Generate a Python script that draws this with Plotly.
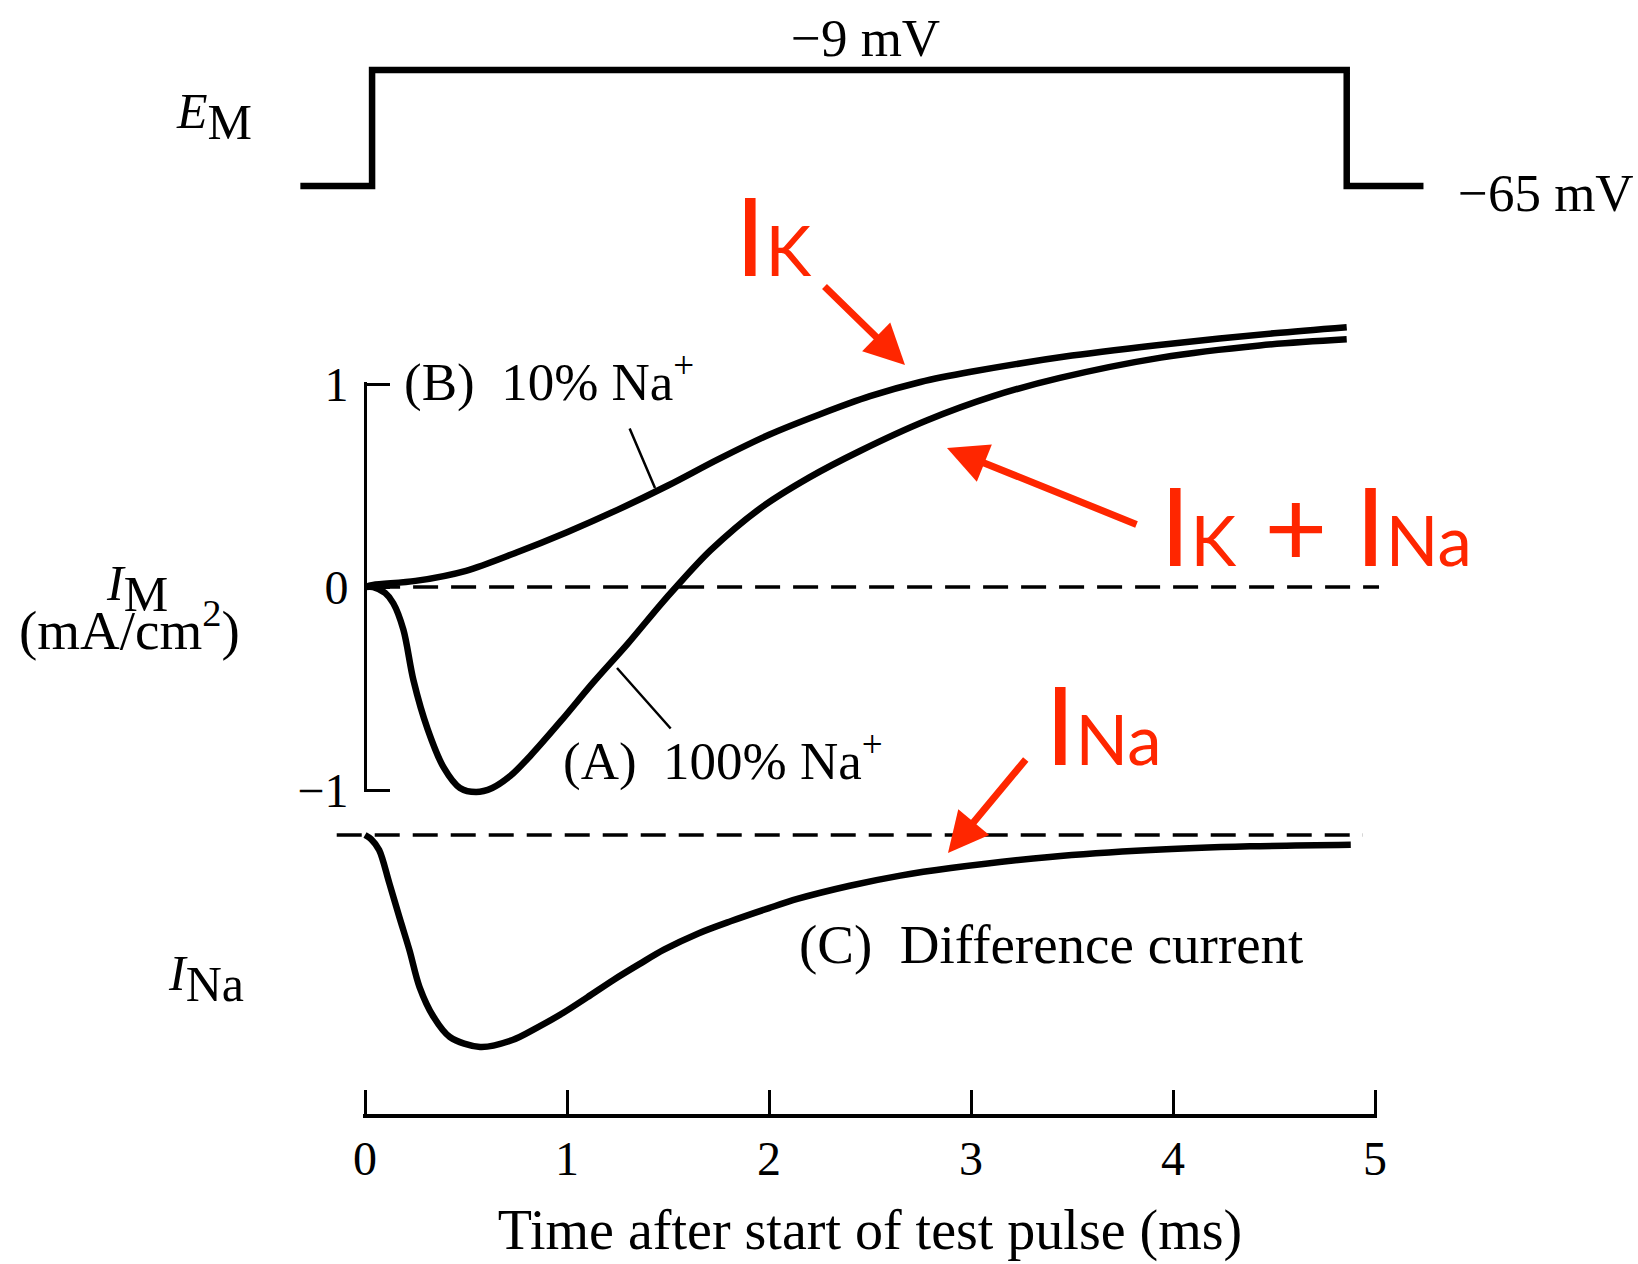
import plotly.graph_objects as go

W, H = 1638, 1264

# Membrane potential command step (mV)
em_time = [-0.32, 0.035, 4.86, 5.24]
em_mv = [-65, -9, -65, -65]

# (B) 10% Na+ : outward K+ current (mA/cm2)
ik_time = [0.0, 0.04, 0.25, 0.5, 0.75, 1.0, 1.25, 1.5, 1.75, 2.0, 2.25, 2.5,
           2.75, 3.0, 3.5, 4.0, 4.5, 4.86]
ik_curr = [0.0, 0.01, 0.03, 0.08, 0.17, 0.27, 0.38, 0.50, 0.63, 0.75, 0.85, 0.94,
           1.01, 1.06, 1.14, 1.20, 1.25, 1.28]

# (A) 100% Na+ : total membrane current (mA/cm2)
itot_time = [0.0, 0.04, 0.10, 0.14, 0.19, 0.24, 0.31, 0.39, 0.47, 0.55, 0.63,
             0.72, 0.82, 0.97, 1.13, 1.30, 1.46, 1.54, 1.71, 1.96, 2.20, 2.45,
             2.78, 3.11, 3.44, 3.94, 4.43, 4.86]
itot_curr = [0.0, 0.0, -0.03, -0.08, -0.21, -0.46, -0.70, -0.89, -0.99, -1.01, -0.99,
             -0.93, -0.83, -0.66, -0.47, -0.28, -0.09, 0.00, 0.18, 0.39, 0.54, 0.67,
             0.82, 0.94, 1.03, 1.13, 1.19, 1.22]

# (C) difference current = Na+ current (mA/cm2)
ina_time = [0.0, 0.03, 0.07, 0.12, 0.17, 0.22, 0.27, 0.34, 0.42, 0.57, 0.73,
            0.85, 0.98, 1.10, 1.23, 1.36, 1.48, 1.65, 1.81, 2.0, 2.14, 2.40,
            2.65, 2.90, 3.39, 3.89, 4.38, 4.88]
ina_curr = [0.0, -0.02, -0.074, -0.236, -0.404, -0.567, -0.749, -0.897, -0.995, -1.044, -1.010,
            -0.95, -0.877, -0.80, -0.714, -0.635, -0.565, -0.485, -0.425, -0.36, -0.315, -0.250,
            -0.20, -0.163, -0.108, -0.074, -0.056, -0.048]

# zero-current reference lines
im_zero_time = [0.05, 5.02]
im_zero_curr = [0, 0]
ina_zero_time = [-0.14, 4.94]
ina_zero_curr = [0, 0]

time_ticks = [0, 1, 2, 3, 4, 5]
im_ticks = [-1, 0, 1]

SERIF = "Liberation Serif"
SANS = "Lato"
RED = "#FF2600"

# pixel scales of the drawing
T0_PX, PX_PER_MS = 365, 202
IM0_PX, PX_PER_UNIT = 587, 203
INA0_PX = 835
END_PAD = 0.01   # keeps the end ticks of the scale bars from being clipped


def px_x(p):
    return p / W


def px_y(p):
    return 1 - p / H


def span_x(v_a, p_a, v_b, p_b):
    per = (v_b - v_a) / (p_b - p_a)
    return [v_a - p_a * per, v_a + (W - p_a) * per]


def span_y(v_a, p_a, v_b, p_b):
    per = (v_b - v_a) / (p_b - p_a)
    return [v_a + (H - p_a) * per, v_a - p_a * per]


fig = go.Figure()

fig.add_trace(go.Scatter(x=em_time, y=em_mv, mode="lines", xaxis="x", yaxis="y",
                         line=dict(color="black", width=6.5, shape="hv")))

fig.add_trace(go.Scatter(x=im_zero_time, y=im_zero_curr, mode="lines", xaxis="x", yaxis="y2",
                         line=dict(color="black", width=3.5, dash="25px,13px")))
fig.add_trace(go.Scatter(x=ik_time, y=ik_curr, mode="lines", xaxis="x", yaxis="y2",
                         line=dict(color="black", width=6.5, shape="spline", smoothing=0.9)))
fig.add_trace(go.Scatter(x=itot_time, y=itot_curr, mode="lines", xaxis="x", yaxis="y2",
                         line=dict(color="black", width=6.5, shape="spline", smoothing=0.9)))

fig.add_trace(go.Scatter(x=ina_zero_time, y=ina_zero_curr, mode="lines", xaxis="x", yaxis="y3",
                         line=dict(color="black", width=3.5, dash="25px,13px")))
fig.add_trace(go.Scatter(x=ina_time, y=ina_curr, mode="lines", xaxis="x", yaxis="y3",
                         line=dict(color="black", width=6.5, shape="spline", smoothing=0.9)))

# empty traces that bring the scale-bar axes into existence
fig.add_trace(go.Scatter(x=[None], y=[None], xaxis="x3", yaxis="y4", hoverinfo="skip"))
fig.add_trace(go.Scatter(x=[None], y=[None], xaxis="x2", yaxis="y5", hoverinfo="skip"))

tick_font = dict(family=SERIF, size=48, color="black")

t_end = time_ticks[-1]
im_top, im_bot = im_ticks[-1], im_ticks[0]
x_pad_px = END_PAD * PX_PER_MS
y_pad_px = END_PAD * PX_PER_UNIT

fig.update_layout(
    width=W, height=H,
    margin=dict(l=0, r=0, t=0, b=0, autoexpand=False),
    paper_bgcolor="white", plot_bgcolor="rgba(0,0,0,0)",
    showlegend=False,
    xaxis=dict(domain=[0, 1], range=span_x(0, T0_PX, 1, T0_PX + PX_PER_MS), visible=False),
    yaxis=dict(domain=[0, 1], range=span_y(-65, 186, -9, 70), visible=False),
    yaxis2=dict(domain=[0, 1], range=span_y(0, IM0_PX, 1, IM0_PX - PX_PER_UNIT),
                visible=False, overlaying="y"),
    yaxis3=dict(domain=[0, 1], range=span_y(0, INA0_PX, -1, INA0_PX + PX_PER_UNIT),
                visible=False, overlaying="y"),
    # current scale bar (bracket) of the I_M panel
    xaxis3=dict(domain=[px_x(367), 1], range=[0, 1], anchor="y4", visible=False),
    yaxis4=dict(domain=[px_y(IM0_PX - im_bot * PX_PER_UNIT + y_pad_px),
                        px_y(IM0_PX - im_top * PX_PER_UNIT - y_pad_px)],
                range=[im_bot - END_PAD, im_top + END_PAD], anchor="x3",
                showline=True, linecolor="black", linewidth=3,
                ticks="inside", ticklen=23, tickwidth=3, tickcolor="black",
                tickvals=im_ticks, tickfont=tick_font, showgrid=False, zeroline=False,
                ticklabelstandoff=6),
    # time axis
    xaxis2=dict(domain=[px_x(T0_PX - x_pad_px), px_x(T0_PX + t_end * PX_PER_MS + x_pad_px)],
                range=[-END_PAD, t_end + END_PAD], anchor="y5",
                showline=True, linecolor="black", linewidth=3.5,
                ticks="inside", ticklen=24, tickwidth=3, tickcolor="black",
                tickvals=time_ticks, tickfont=tick_font, showgrid=False, zeroline=False,
                title=dict(text="Time after start of test pulse (ms)",
                           font=dict(family=SERIF, size=56, color="black"), standoff=26)),
    yaxis5=dict(domain=[px_y(1114), px_y(1100)], range=[0, 1], anchor="x2", visible=False),
)


def label(text, px, py, size, xanchor="center", color="black", family=SERIF):
    return dict(text=text, x=px_x(px), y=px_y(py), xref="paper", yref="paper",
                xanchor=xanchor, yanchor="middle", showarrow=False,
                font=dict(family=family, size=size, color=color))


def arrow(tip, tail, color=RED, width=7, head=2, size=1.0):
    return dict(text="", x=px_x(tip[0]), y=px_y(tip[1]), xref="paper", yref="paper",
                ax=tail[0] - tip[0], ay=tail[1] - tip[1], showarrow=True,
                arrowcolor=color, arrowwidth=width, arrowhead=head, arrowsize=size, standoff=0)


red_sub = "<span style='font-size:69px'>{}</span>"
blk_sub = "<sub><span style='font-size:50px'>{}</span></sub>"

annotations = [
    label("−9 mV", 865, 38, 53),
    label("−65 mV", 1546, 193, 53),
    label("<i>E</i>" + blk_sub.format("M"), 174, 116, 50, xanchor="left"),
    label("<i>I</i>" + blk_sub.format("M"), 104, 589, 50, xanchor="left"),
    label("(mA/cm<sup>2</sup>)", 129, 626, 55),
    label("<i>I</i>" + blk_sub.format("Na"), 166, 978, 50, xanchor="left"),
    label("(B)\u00a0\u00a010% Na<sup>+</sup>", 402, 378, 53, xanchor="left"),
    label("(A)\u00a0\u00a0100% Na<sup>+</sup>", 561, 757, 53, xanchor="left"),
    label("(C)\u00a0\u00a0Difference current", 797, 944, 55, xanchor="left"),
    label("I" + red_sub.format("K"), 733, 234, 109, xanchor="left", color=RED, family=SANS),
    label("I" + red_sub.format("K") + "\u00a0+\u00a0I" + red_sub.format("Na"), 1158, 523, 109,
          xanchor="left", color=RED, family=SANS),
    label("I" + red_sub.format("Na"), 1043, 722, 109, xanchor="left", color=RED, family=SANS),
    arrow((905, 365), (823, 285), size=1.15),
    arrow((947, 448), (1138, 525), size=1.15),
    arrow((948, 853), (1027, 758), size=1.15),
    arrow((655, 488), (629, 427), color="black", width=2.5, head=0),
    arrow((617, 668), (672, 730), color="black", width=2.5, head=0),
]
fig.update_layout(annotations=annotations)

fig.write_html("out.html")
